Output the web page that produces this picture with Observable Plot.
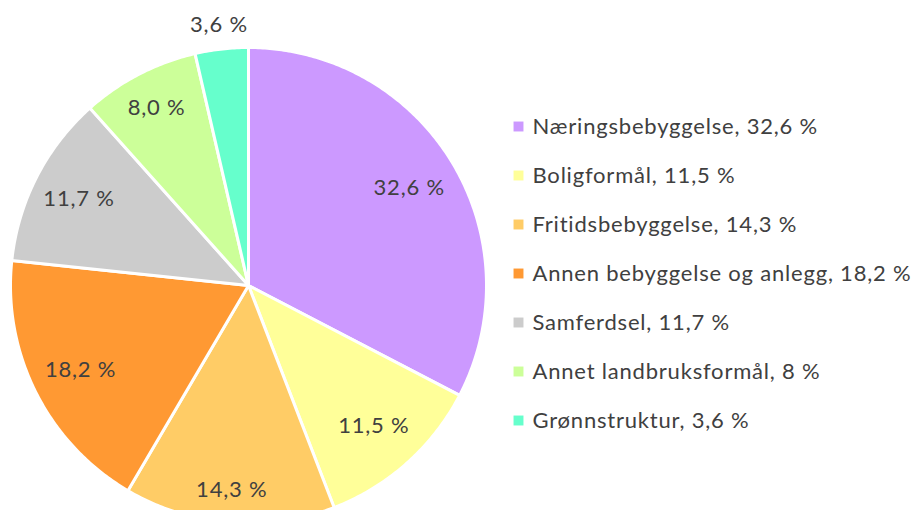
<!DOCTYPE html>
<html>
<head>
<meta charset="utf-8">
<script src="https://cdn.jsdelivr.net/npm/d3@7"></script>
<script src="https://cdn.jsdelivr.net/npm/@observablehq/plot@0.6"></script>
<style>
  html, body { margin: 0; padding: 0; background: #fff; }
  #chart { position: relative; width: 916px; height: 511px; overflow: hidden; }
  #chart svg { position: absolute; left: 0; top: 0; font-family: Lato, "Open Sans", sans-serif; background: transparent; }
  #chart svg text { letter-spacing: 0.8px; }
</style>
</head>
<body>
<div id="chart"></div>
<script>
const categories = ["Næringsbebyggelse", "Boligformål", "Fritidsbebyggelse", "Annen bebyggelse og anlegg", "Samferdsel", "Annet landbruksformål", "Grønnstruktur"];
const values = [32.6, 11.5, 14.3, 18.2, 11.7, 8.0, 3.6];
const sliceLabels = ["32,6 %", "11,5 %", "14,3 %", "18,2 %", "11,7 %", "8,0 %", "3,6 %"];
const legendLabels = ["Næringsbebyggelse, 32,6 %", "Boligformål, 11,5 %", "Fritidsbebyggelse, 14,3 %", "Annen bebyggelse og anlegg, 18,2 %", "Samferdsel, 11,7 %", "Annet landbruksformål, 8 %", "Grønnstruktur, 3,6 %"];
const colors = ["#CC99FF", "#FFFF99", "#FFCC66", "#FF9933", "#CCCCCC", "#CCFF99", "#66FFCC"];
const labelRadius = [0.79, 0.79, 0.86, 0.79, 0.80, 0.84, 1.1];

// pie geometry in unit coordinates (angle 0 at top, clockwise)
const arcs = d3.pie().sort(null).value(d => d)(values);
const slices = arcs.map((a, i) => {
  const pts = [[0, 0]];
  const n = Math.max(4, Math.ceil((a.endAngle - a.startAngle) / 0.01));
  for (let k = 0; k <= n; k++) {
    const t = a.startAngle + (a.endAngle - a.startAngle) * k / n;
    pts.push([Math.sin(t), Math.cos(t)]);
  }
  pts.push([0, 0]);
  return {type: "Feature", properties: {cat: categories[i]}, geometry: {type: "Polygon", coordinates: [pts]}};
});
const labelPts = arcs.map((a, i) => {
  const m = (a.startAngle + a.endAngle) / 2;
  const r = labelRadius[i];
  return {type: "Feature", properties: {label: sliceLabels[i]}, geometry: {type: "Point", coordinates: [r * Math.sin(m), r * Math.cos(m)]}};
});
const legend = categories.map((c, i) => ({cat: c, label: legendLabels[i]}));

const pie = Plot.plot({
  width: 916,
  height: 511,
  margin: 0,
  projection: () => d3.geoIdentity().reflectY(true).scale(238).translate([248, 285]),
  color: {domain: categories, range: colors},
  marks: [
    Plot.geo(slices, {fill: d => d.properties.cat, stroke: "white", strokeWidth: 3, strokeLinejoin: "round"}),
    Plot.text(labelPts, Plot.centroid({text: d => d.properties.label, fontSize: 22, fill: "#404040"}))
  ]
});

const leg = Plot.plot({
  width: 916,
  height: 511,
  margin: 0,
  x: {domain: [0, 1], range: [518, 900], axis: null},
  y: {type: "point", domain: categories, range: [126, 420], padding: 0, axis: null},
  color: {domain: categories, range: colors},
  marks: [
    Plot.dot(legend, {x: () => 0, y: "cat", symbol: "square", r: 5.6, fill: "cat", stroke: null}),
    Plot.text(legend, {x: () => 0, y: "cat", text: "label", dx: 14, textAnchor: "start", fontSize: 22, fill: "#404040"})
  ]
});
const el = document.getElementById("chart");
el.appendChild(pie);
el.appendChild(leg);
</script>
</body>
</html>
